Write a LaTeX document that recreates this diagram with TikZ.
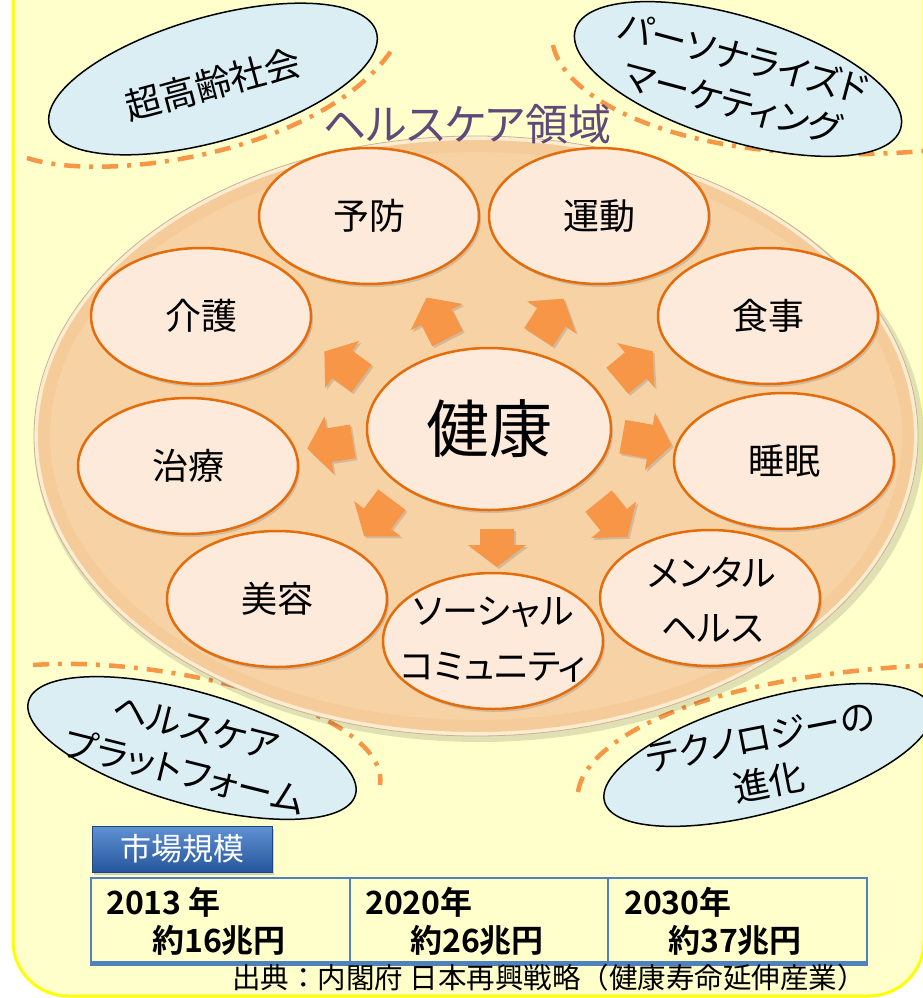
\documentclass[tikz,border=0pt]{standalone}
\usepackage{fontspec}
\usetikzlibrary{shapes.geometric,shadows,calc}
\newfontfamily\jp[RawFeature=+palt]{Noto Sans CJK JP}
\newfontfamily\jpn[BoldFont={Noto Sans CJK JP Bold}]{Noto Sans CJK JP}
\definecolor{bgyellow}{RGB}{255,255,204}
\definecolor{frameyellow}{RGB}{255,255,0}
\definecolor{ellfill}{RGB}{247,210,165}
\definecolor{ellband}{RGB}{243,190,132}
\definecolor{ellrim}{RGB}{253,236,208}
\definecolor{elledge}{RGB}{200,180,150}
\definecolor{bubfill}{RGB}{253,234,218}
\definecolor{bubline}{RGB}{228,108,10}
\definecolor{arrowc}{RGB}{247,150,70}
\definecolor{bluefill}{RGB}{218,238,243}
\definecolor{titlec}{RGB}{95,73,122}
\definecolor{tableline}{RGB}{79,129,189}
\definecolor{btntop}{RGB}{95,145,212}
\definecolor{btnbot}{RGB}{38,86,155}
\tikzset{
  pics/barrow/.style={code={
    \fill[arrowc, drop shadow={shadow xshift=2pt,shadow yshift=-2pt,opacity=.3}]
      (-#1,-17) -- ({#1-22},-17) -- ({#1-22},-29) -- (#1,0) -- ({#1-22},29) -- ({#1-22},17) -- (-#1,17) -- cycle;
  }}
}
\begin{document}
\begin{tikzpicture}[x=1pt,y=-1pt,
  bub/.style={ellipse, draw=bubline, line width=2.5pt, fill=bubfill, minimum width=220pt, minimum height=136pt, inner sep=0pt,
    drop shadow={shadow xshift=2pt, shadow yshift=-3pt, opacity=.3}},
  bluebub/.style={ellipse, draw=black, line width=1.5pt, fill=bluefill, inner sep=0pt},
  lbl/.style={font=\fontsize{36}{55}\selectfont\jp, align=center, inner sep=0pt},
  bluelbl/.style={font=\fontsize{36}{46}\selectfont\jp, align=center, inner sep=0pt},
  dashdot/.style={draw=arrowc, line width=4.5pt, dash pattern=on 16pt off 9pt on 4pt off 9pt},
  tbl/.style={font=\fontsize{32}{32}\selectfont\jpn\bfseries, inner sep=0pt},
  cell/.style={rectangle, draw=tableline, line width=2.5pt, fill=bgyellow, minimum width=258pt, minimum height=84pt, inner sep=0pt}
]
\useasboundingbox (0,0) rectangle (922,998);
% background frame
\fill[white] (0,0) rectangle (922,998);
\draw[fill=bgyellow, draw=frameyellow, line width=3pt, rounded corners=55pt] (13,-100) rectangle (924,996);

% dash-dot arcs
\draw[dashdot] (27,158) .. controls (110,185) and (330,150) .. (395,45);
\draw[dashdot] (553,45) .. controls (565,105) and (700,172) .. (935,150);
\draw[dashdot] (33,665) .. controls (180,655) and (390,715) .. (380,785);
\draw[dashdot] (578,792) .. controls (585,740) and (700,675) .. (935,665);

% big ellipse
\fill[black, opacity=.12] (479,440) ellipse (445 and 302);
\fill[ellfill] (476,436) ellipse (442 and 300);
\begin{scope}
  \clip (476,436) ellipse (442 and 300);
  \draw[ellband, line width=16pt, opacity=.35] (476,436) ellipse (434 and 292);
\end{scope}
\draw[ellrim, line width=4pt] (476,436) ellipse (440 and 298);
\draw[elledge, line width=0.8pt] (476,436) ellipse (442 and 300);

% title
\node[font=\fontsize{43}{43}\selectfont\jp, text=titlec, inner sep=0pt] (title) at (467,124) {ヘルスケア領域};

% blue ellipses
\node[bluebub, minimum width=340pt, minimum height=124pt, rotate=16] (b1) at (213,79) {};
\node[bluelbl, rotate=15] (b1t) at (213,84) {超高齢社会};
\node[bluebub, minimum width=340pt, minimum height=124pt, rotate=-17] (b2) at (738,79) {};
\node[bluelbl, rotate=-15] (b2t) at (738,80) {パーソナライズド\\マーケティング};
\node[bluebub, minimum width=340pt, minimum height=112pt, rotate=-16] (b3) at (192,748) {};
\node[bluelbl, rotate=-14] (b3t) at (190,750) {ヘルスケア\\プラットフォーム};
\node[bluebub, minimum width=340pt, minimum height=112pt, rotate=16] (b4) at (768,755) {};
\node[bluelbl, rotate=11] (b4t) at (765,760) {テクノロジーの\\進化};

% arrows
\pic[rotate=117] at (437,318) {barrow=23};
\pic[rotate=57] at (551,318) {barrow=23};
\pic[rotate=144] at (343,365) {barrow=23};
\pic[rotate=40] at (635,366) {barrow=23};
\pic[rotate=189] at (330,445) {barrow=23};
\pic[rotate=-10] at (647,441) {barrow=25};
\pic[rotate=-127] at (378,518) {barrow=23};
\pic[rotate=-51] at (613,519) {barrow=23};
\pic[rotate=-90] at (497,548) {barrow=19};

% bubbles
\node[bub] (yobo) at (369,216) {};
\node[lbl] (yobot) at (yobo) {予防};
\node[bub] (undo) at (599,216) {};
\node[lbl] (undot) at (undo) {運動};
\node[bub] (kaigo) at (201,316) {};
\node[lbl] (kaigot) at (kaigo) {介護};
\node[bub] (shoku) at (768,316) {};
\node[lbl] (shokut) at (shoku) {食事};
\node[bub] (chiryo) at (188,466) {};
\node[lbl] (chiryot) at (chiryo) {治療};
\node[bub] (suimin) at (784,461) {};
\node[lbl] (suimint) at (suimin) {睡眠};
\node[bub] (biyo) at (277,599) {};
\node[lbl] (biyot) at (biyo) {美容};
\node[bub] (mental) at (710,598) {};
\node[lbl] (mentalt) at (712,600) {メンタル\\ヘルス};
\node[bub] (social) at (493,641) {};
\node[lbl] (socialt) at (493,640) {ソーシャル\\コミュニティ};
\node[bub, minimum width=244pt, minimum height=162pt] (kenko) at (489,429) {};
\node[font=\fontsize{63}{63}\selectfont\jp, inner sep=0pt] (kenkot) at (kenko) {健康};

% market size
\node[cell, minimum width=259pt] (c1) at (220.5,920) {};
\node[cell] (c2) at (479,920) {};
\node[cell, minimum width=259pt] (c3) at (737.5,920) {};
\draw[tableline, line width=5pt] (c1.south west) -- (c3.south east);
\node[rectangle, minimum width=180pt, minimum height=46pt, top color=btntop, bottom color=btnbot, draw=btnbot!80!black, line width=1pt,
  text=white, font=\fontsize{31}{31}\selectfont\jpn, drop shadow={shadow xshift=2pt, shadow yshift=-3pt, opacity=.35}] (mkt) at (182,849) {市場規模};

\node[tbl, anchor=west] (y1) at (106,902) {2013 年};
\node[tbl] (v1) at (219,940) {約16兆円};
\node[tbl, anchor=west] (y2) at (365,902) {2020年};
\node[tbl] (v2) at (477,940) {約26兆円};
\node[tbl, anchor=west] (y3) at (624,902) {2030年};
\node[tbl] (v3) at (735,940) {約37兆円};

\node[font=\fontsize{28.5}{28.5}\selectfont\jpn, anchor=east, inner sep=0pt] (src) at (866,978) {出典：内閣府 日本再興戦略（健康寿命延伸産業）};
\end{tikzpicture}
\end{document}
